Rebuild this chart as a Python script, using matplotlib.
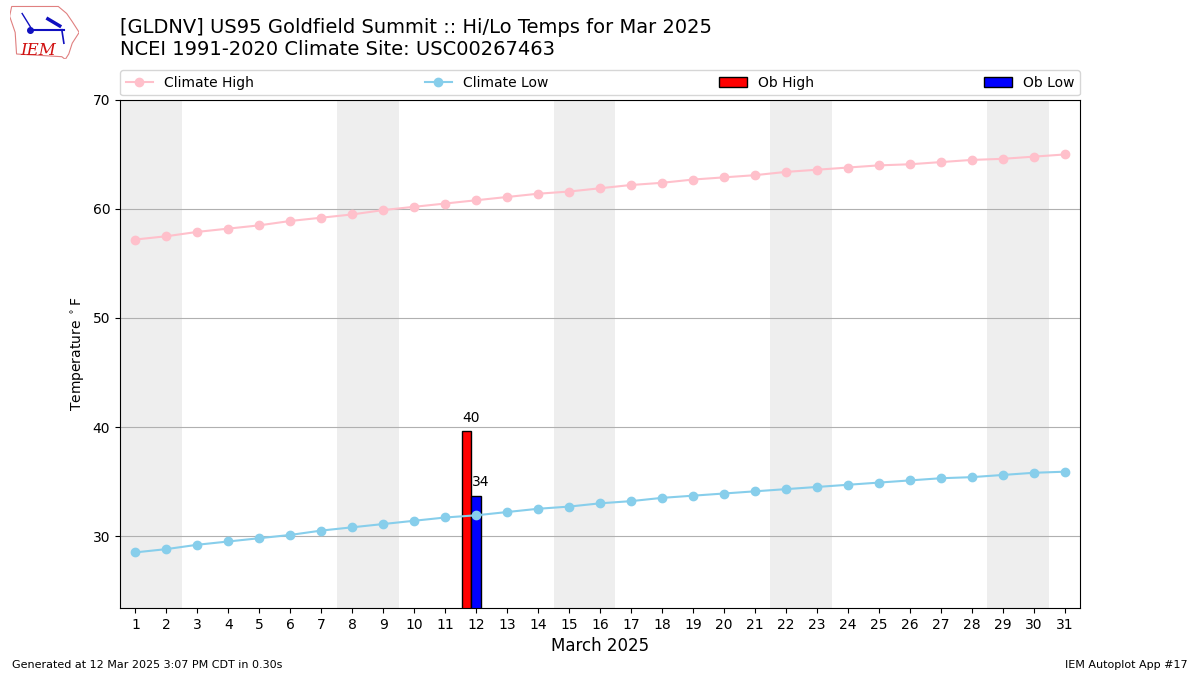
import numpy as np
import matplotlib.pyplot as plt
from matplotlib.patches import Polygon

# Climatology (NCEI 1991-2020) for each day of March
days = np.arange(1, 32)
climate_high = [57.2, 57.5, 57.9, 58.2, 58.5, 58.9, 59.2, 59.5, 59.9, 60.2,
                60.5, 60.8, 61.1, 61.4, 61.6, 61.9, 62.2, 62.4, 62.7, 62.9,
                63.1, 63.4, 63.6, 63.8, 64.0, 64.1, 64.3, 64.5, 64.6, 64.8,
                65.0]
climate_low = [28.5, 28.8, 29.2, 29.5, 29.8, 30.1, 30.5, 30.8, 31.1, 31.4,
               31.7, 31.9, 32.2, 32.5, 32.7, 33.0, 33.2, 33.5, 33.7, 33.9,
               34.1, 34.3, 34.5, 34.7, 34.9, 35.1, 35.3, 35.4, 35.6, 35.8,
               35.9]

# Observations so far
ob_days = [12]
ob_high = [39.6]
ob_low = [33.7]

# Weekend days (Sat/Sun) to shade
weekends = [1, 8, 15, 22, 29]

fig = plt.figure(figsize=(12, 6.75), dpi=100)
ax = fig.add_axes([0.1, 0.0993, 0.8, 0.7526])

for d in weekends:
    ax.axvspan(d - 0.5, d + 1.5, color='#eeeeee', zorder=0, lw=0)

ax.plot(days, climate_high, marker='o', color='pink', label='Climate High', zorder=3)
ax.plot(days, climate_low, marker='o', color='skyblue', label='Climate Low', zorder=3)

width = 0.3
xh = np.array(ob_days) - width
xl = np.array(ob_days) * 1.0
ax.bar(xh, ob_high, width=width, color='r', edgecolor='k', label='Ob High', zorder=2)
ax.bar(xl, ob_low, width=width, color='b', edgecolor='k', label='Ob Low', zorder=2)
for x, v in zip(xh, ob_high):
    ax.text(x - width / 2, v + 0.6, '%.0f' % v, ha='left', va='bottom', fontsize=10)
for x, v in zip(xl, ob_low):
    ax.text(x - width / 2, v + 0.6, '%.0f' % v, ha='left', va='bottom', fontsize=10)

ax.set_xlim(0.5, 31.5)
ax.set_ylim(23.4, 70)
ax.set_xticks(days)
ax.grid(axis='y', color='#b0b0b0')
ax.set_axisbelow(True)
ax.set_ylabel(r'Temperature $^\circ$F')
ax.set_xlabel('March 2025', fontsize=12, labelpad=3.5)

ax.legend(loc='lower left', bbox_to_anchor=(0, 1.009, 1, 0.05), ncol=4,
          mode='expand', borderaxespad=0, fontsize=10)

fig.text(0.1, 0.945, '[GLDNV] US95 Goldfield Summit :: Hi/Lo Temps for Mar 2025',
         fontsize=14, va='bottom')
fig.text(0.1, 0.912, 'NCEI 1991-2020 Climate Site: USC00267463',
         fontsize=14, va='bottom')

fig.text(0.01, 0.01, 'Generated at 12 Mar 2025 3:07 PM CDT in 0.30s', fontsize=8)
fig.text(0.99, 0.01, 'IEM Autoplot App #17', fontsize=8, ha='right')

# small IEM logo
lax = fig.add_axes([0.008, 0.912, 0.058, 0.08])
lax.axis('off')
lax.set_xlim(0, 1)
lax.set_ylim(0, 1)
outline = [(0.03, 0.98), (0.7, 0.98), (0.82, 0.85), (0.9, 0.7), (1.0, 0.5),
           (0.9, 0.3), (0.85, 0.1), (0.8, 0.0), (0.75, 0.05), (0.1, 0.1),
           (0.08, 0.5), (0.0, 0.8)]
lax.add_patch(Polygon(outline, closed=True, fill=False, ec='#e08080', lw=0.8))
lax.plot([0.3, 0.78], [0.55, 0.55], color='#1010c0', lw=1.5)
lax.plot([0.3], [0.55], 'o', color='#1010c0', ms=4)
lax.plot([0.18, 0.3], [0.85, 0.6], color='#1010c0', lw=1)
lax.plot([0.55, 0.72], [0.75, 0.62], color='#1010c0', lw=2.5)
lax.plot([0.75, 0.78], [0.55, 0.3], color='#1010c0', lw=1.2)
lax.text(0.15, 0.08, 'IEM', color='#d01010', fontsize=12, family='serif',
         style='italic')

fig.savefig('out.png', dpi=100)
